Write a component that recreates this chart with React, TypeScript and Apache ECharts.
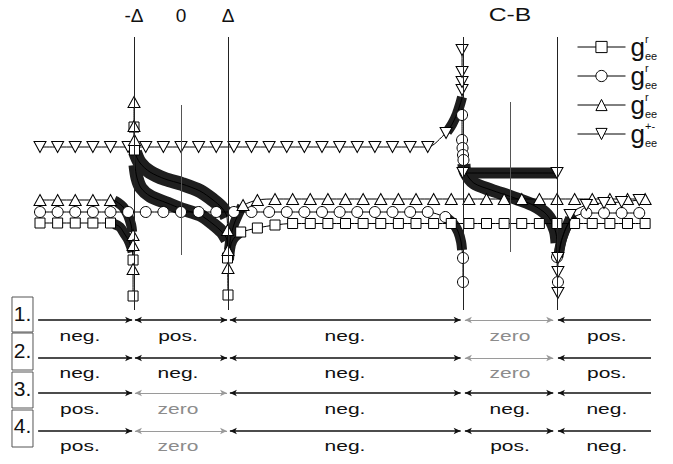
import React, { useEffect, useRef } from 'react';
import * as echarts from 'echarts';

type P = [number, number];

// x: energy in units of Δ (−Δ=−1, 0, Δ=1, C-B region 6..8); y: Green's function (arb. units)
const X_MIN = -3.8511;
const X_MAX = 10.4681;
const Y_MIN = -15.4;
const Y_MAX = 31;

// ---- g^r_ee (squares)
const SQ_L: P[] = [[-3, 8.7], [-2.625, 8.7], [-2.25, 8.7], [-1.875, 8.7], [-1.5, 8.7]];
const SQ_L_BAND: P[] = [[-1.42, 8.6], [-1.3, 8.3], [-1.2, 7.6], [-1.12, 7.0], [-1.06, 6.3], [-1.03, 5.8]];
const SQ_L_DROP: P[] = [[-1.02, 5.0], [-1.02, 1.4]];
const SQ_M_TOP: P[] = [[-1.0, 18.3], [-0.99, 16.0]];
const SQ_M_BAND: P[] = [[-0.979, 14.5], [-0.936, 13.2], [-0.851, 12.2], [-0.66, 11.4], [-0.298, 10.7], [0.021, 10.1], [0.404, 9.5], [0.681, 8.6], [0.872, 7.8], [0.979, 7.0]];
const SQ_M_DROP: P[] = [[0.99, 5.2], [1.0, 1.5]];
const SQ_R_BAND: P[] = [[1.02, 5.0], [1.06, 6.5], [1.13, 7.2], [1.25, 7.7]];
const SQ_R: P[] = [[1.27, 7.8], [1.625, 8.2], [2, 8.5], [2.375, 8.65], [2.75, 8.65], [3.125, 8.65], [3.5, 8.65], [3.875, 8.65], [4.25, 8.65], [4.625, 8.65], [5, 8.65], [5.375, 8.65], [5.75, 8.65], [6.125, 8.65], [6.5, 8.65], [6.875, 8.65], [7.25, 8.65], [7.625, 8.65], [8, 8.65], [8.375, 8.65], [8.75, 8.65], [9.125, 8.65], [9.5, 8.65], [9.875, 8.65]];

// ---- g^r_ee (circles)
const CI_L: P[] = [[-3, 9.8], [-2.625, 9.8], [-2.25, 9.8], [-1.875, 9.8], [-1.5, 9.8], [-1.125, 9.8], [-0.75, 9.8], [-0.375, 9.8], [0, 9.8], [0.375, 9.8], [0.75, 9.8], [1.125, 9.8], [1.5, 9.8], [1.875, 9.8], [2.25, 9.8], [2.625, 9.8], [3, 9.8], [3.375, 9.8], [3.75, 9.8], [4.125, 9.8], [4.5, 9.8], [4.875, 9.8], [5.25, 9.8], [5.625, 9.3]];
const CI_L_BAND: P[] = [[5.66, 9.2], [5.8, 8.6], [5.9, 7.8], [5.96, 6.8], [5.98, 6.0]];
const CI_L_DROP: P[] = [[6.0, 5.2], [6.0, 2.8]];
const CI_M_TOP: P[] = [[5.98, 19.5], [5.98, 17.0], [5.99, 16.2], [6.0, 15.5], [6.01, 15.0]];
const CI_M_BAND: P[] = [[6.02, 14.6], [6.05, 13.8], [6.23, 12.7], [6.6, 12.0], [7.04, 11.3], [7.49, 10.5], [7.79, 9.5], [7.96, 8.0], [8.0, 6.7]];
const CI_M_DROP: P[] = [[8.0, 5.3], [8.02, 2.8]];
const CI_R_BAND: P[] = [[8.03, 5.3], [8.07, 6.5], [8.17, 8.0], [8.3, 9.0], [8.4, 9.4]];
const CI_R: P[] = [[8.625, 9.7], [9.0, 9.7], [9.375, 9.7], [9.75, 9.7]];

// ---- g^r_ee (triangles)
const TR_L: P[] = [[-3, 11.0], [-2.625, 11.0], [-2.25, 11.0], [-1.875, 11.0], [-1.5, 11.0]];
const TR_L_BAND: P[] = [[-1.42, 10.95], [-1.36, 10.8], [-1.23, 10.3], [-1.13, 9.5], [-1.06, 8.5], [-1.04, 7.8]];
const TR_L_DROP: P[] = [[-1.02, 7.5], [-1.02, 6.5], [-1.02, 4.1]];
const TR_M_TOP: P[] = [[-1.0, 20.8], [-1.0, 18.4], [-0.99, 17.0]];
const TR_M_BAND: P[] = [[-0.979, 15.8], [-0.872, 14.7], [-0.66, 13.8], [-0.34, 13.1], [0.021, 12.6], [0.404, 11.9], [0.681, 11.0], [0.872, 10.2], [0.979, 9.3]];
const TR_M_DROP: P[] = [[0.99, 8.0], [1.0, 6.0], [1.0, 4.2]];
const TR_R_BAND: P[] = [[1.02, 6.0], [1.06, 7.3], [1.13, 8.6], [1.25, 9.9], [1.3, 10.4]];
const TR_R: P[] = [[1.32, 10.5], [1.625, 11.0], [2, 11.1], [2.375, 11.1], [2.75, 11.1], [3.125, 11.1], [3.5, 11.1], [3.875, 11.1], [4.25, 11.1], [4.625, 11.1], [5, 11.1], [5.375, 11.1], [5.75, 11.1], [6.125, 11.1], [6.5, 11.1], [6.875, 11.1], [7.25, 11.1], [7.625, 11.1], [8, 11.1], [8.375, 11.1], [8.75, 11.1], [9.125, 11.1], [9.5, 11.1], [9.875, 11.1]];

// ---- g^{+-}_ee (down triangles)
const DN_L: P[] = [[-3, 16.3], [-2.625, 16.3], [-2.25, 16.3], [-1.875, 16.3], [-1.5, 16.3], [-1.125, 16.3], [-0.75, 16.3], [-0.375, 16.3], [0, 16.3], [0.375, 16.3], [0.75, 16.3], [1.125, 16.3], [1.5, 16.3], [1.875, 16.3], [2.25, 16.3], [2.625, 16.3], [3, 16.3], [3.375, 16.3], [3.75, 16.3], [4.125, 16.3], [4.5, 16.3], [4.875, 16.3], [5.25, 16.3], [5.64, 17.7]];
const DN_L_BAND: P[] = [[5.66, 17.8], [5.77, 18.6], [5.87, 19.6], [5.94, 20.6], [5.98, 21.3]];
const DN_L_RISE: P[] = [[5.98, 22.0], [5.98, 22.8], [5.98, 23.8], [5.98, 26.0]];
const DN_M_START: P[] = [[6.0, 13.7]];
const DN_M_BAND: P[] = [[6.0, 13.7], [8.0, 13.7]];
const DN_M_END: P[] = [[8.0, 13.7]];
const DN_R_DROP: P[] = [[8.02, 1.7], [8.02, 3.8], [8.02, 5.2]];
const DN_R_BAND: P[] = [[8.04, 5.6], [8.1, 7.0], [8.2, 8.3], [8.28, 9.2]];
const DN_R: P[] = [[8.28, 9.5], [8.625, 10.5], [9.0, 10.7], [9.375, 10.8], [9.75, 11.0]];

// ---- guides and annotations
const MAIN_LINE_X = [-1, 1, 6, 8];
const MAIN_LINE_Y: P = [0, 27.3];
const CENTER_LINE_X = [0, 7];
const CENTER_LINE_TOP = [20.5, 20.8];
const CENTER_LINE_BOTTOM = [5.5, 5.8];
const TOP_LABELS = ['-Δ', '0', 'Δ', 'C-B'];
const TOP_LABEL_X = [-1, 0, 1, 7];
const TOP_LABEL_Y = 29.5;

const ROW_TEXTS = [
  ['neg.', 'pos.', 'neg.', 'zero', 'pos.'],
  ['neg.', 'neg.', 'neg.', 'zero', 'pos.'],
  ['pos.', 'zero', 'neg.', 'neg.', 'neg.'],
  ['pos.', 'zero', 'neg.', 'pos.', 'neg.'],
];
const SEG_X: P[] = [[-3.04, -1.04], [-0.98, 0.98], [1.04, 5.95], [6.04, 7.92], [8.02, 10.0]];
const TEXT_X = [-2.15, -0.064, 3.49, 7.0, 9.06];
const ARROW_Y = [-1.0, -4.8, -8.3, -12.1];
const TEXT_Y = [-2.6, -6.3, -9.9, -13.6];
const BOX_LABELS = ['1.', '2.', '3.', '4.'];
const BOX_X: P = [-3.596, -3.149];
const BOX_Y: P[] = [[1.3, -2.2], [-2.3, -6.0], [-6.2, -9.8], [-10.0, -13.7]];
const BOX_LABEL_X = -3.372;
const BOX_LABEL_Y = [-0.3, -4.0, -7.8, -11.5];

const NAMES = ['gr_sq', 'gr_ci', 'gr_tr', 'gpm'];
const LEGEND_TEXT: Record<string, string> = {
  gr_sq: '{g|g}{sup|r}{sub|ee}',
  gr_ci: '{g|g}{sup|r}{sub|ee}',
  gr_tr: '{g|g}{sup|r}{sub|ee}',
  gpm: '{g|g}{sup|+-}{sub|ee}',
};

const FONT = '"Liberation Sans", Arial, Helvetica, sans-serif';

interface SymDef { symbol: string; size: number | number[]; rotate: number }
const SYMS: Record<string, SymDef> = {
  gr_sq: { symbol: 'rect', size: 10, rotate: 0 },
  gr_ci: { symbol: 'circle', size: 11, rotate: 0 },
  gr_tr: { symbol: 'triangle', size: [12, 11], rotate: 0 },
  gpm: { symbol: 'triangle', size: [12, 11], rotate: 180 },
};

const markerSeries: any[] = [];
const bandSeries: any[] = [];

function addSegment(name: string, pre: P[], band: P[], post: P[], bandWidth: number) {
  const s = SYMS[name];
  const data: any[] = [
    ...pre.map((p) => p),
    ...band.map((p) => ({ value: p, symbol: 'none' })),
    ...post.map((p) => p),
  ];
  markerSeries.push({
    type: 'line',
    name,
    data,
    symbol: s.symbol,
    symbolSize: s.size,
    symbolRotate: s.rotate,
    showSymbol: true,
    smooth: 0.3,
    lineStyle: { color: '#000', width: 1 },
    itemStyle: { color: '#fff', borderColor: '#000', borderWidth: 1 },
    z: 3,
    silent: true,
    clip: false,
  });
  if (band.length) {
    bandSeries.push({
      type: 'line',
      name,
      data: band,
      symbol: 'none',
      smooth: 0.3,
      lineStyle: { color: '#1e1e1e', width: bandWidth, join: 'round', cap: 'butt' },
      z: 2,
      silent: true,
      clip: false,
    });
  }
}

addSegment('gr_sq', SQ_L, SQ_L_BAND, SQ_L_DROP, 10);
addSegment('gr_ci', CI_L, CI_L_BAND, CI_L_DROP, 10);
addSegment('gr_tr', TR_L, TR_L_BAND, TR_L_DROP, 10);
addSegment('gpm', DN_L, DN_L_BAND, DN_L_RISE, 10);
addSegment('gr_sq', SQ_M_TOP, SQ_M_BAND, SQ_M_DROP, 13);
addSegment('gr_sq', [], SQ_R_BAND, SQ_R, 10);
addSegment('gr_ci', CI_M_TOP, CI_M_BAND, CI_M_DROP, 13);
addSegment('gr_ci', [], CI_R_BAND, CI_R, 10);
addSegment('gr_tr', TR_M_TOP, TR_M_BAND, TR_M_DROP, 14);
addSegment('gr_tr', [], TR_R_BAND, TR_R, 10);
addSegment('gpm', DN_M_START, DN_M_BAND, DN_M_END, 11);
addSegment('gpm', DN_R_DROP, DN_R_BAND, DN_R, 10);

function guideData() {
  const out: any[] = [];
  MAIN_LINE_X.forEach((x) => {
    out.push([
      { coord: [x, MAIN_LINE_Y[0]], symbol: 'none', lineStyle: { color: '#222', width: 1, type: 'solid' } },
      { coord: [x, MAIN_LINE_Y[1]], symbol: 'none' },
    ]);
  });
  CENTER_LINE_X.forEach((x, i) => {
    out.push([
      { coord: [x, CENTER_LINE_BOTTOM[i]], symbol: 'none', lineStyle: { color: '#555', width: 1, type: 'solid' } },
      { coord: [x, CENTER_LINE_TOP[i]], symbol: 'none' },
    ]);
  });
  ROW_TEXTS.forEach((row, r) => {
    SEG_X.forEach(([a, b], c) => {
      const grey = row[c] === 'zero';
      const color = grey ? '#9a9a9a' : '#111';
      const width = grey ? 1 : 1.6;
      out.push([
        {
          coord: [a, ARROW_Y[r]],
          symbol: c === 0 ? 'none' : 'arrow',
          symbolSize: [5, 7],
          lineStyle: { color, width, type: 'solid' },
          itemStyle: { color },
        },
        { coord: [b, ARROW_Y[r]], symbol: c === SEG_X.length - 1 ? 'none' : 'arrow', symbolSize: [5, 7], itemStyle: { color } },
      ]);
    });
  });
  return out;
}

const option: any = {
  animation: false,
  backgroundColor: '#fff',
  grid: { left: 0, right: 0, top: 0, bottom: 0, containLabel: false },
  xAxis: { type: 'value', min: X_MIN, max: X_MAX, show: false, splitLine: { show: false } },
  yAxis: { type: 'value', min: Y_MIN, max: Y_MAX, show: false, splitLine: { show: false } },
  legend: {
    data: NAMES,
    orient: 'vertical',
    left: 577,
    top: 33,
    padding: 0,
    itemWidth: 48,
    itemHeight: 14,
    itemGap: 1,
    selectedMode: false,
    lineStyle: { color: '#000', width: 1 },
    itemStyle: { color: '#fff', borderColor: '#000', borderWidth: 1 },
    formatter: (name: string) => LEGEND_TEXT[name],
    textStyle: {
      fontFamily: FONT,
      color: '#111',
      rich: {
        g: { fontSize: 26, lineHeight: 28, fontFamily: FONT, color: '#111' },
        sup: { fontSize: 11, width: 0, align: 'left', verticalAlign: 'top', fontFamily: FONT, color: '#111' },
        sub: { fontSize: 11, verticalAlign: 'bottom', fontFamily: FONT, color: '#111' },
      },
    },
  },
  series: [
    ...markerSeries,
    ...bandSeries,
    {
      type: 'line',
      name: 'guides',
      data: [],
      silent: true,
      markLine: {
        silent: true,
        animation: false,
        symbol: ['none', 'none'],
        label: { show: false },
        emphasis: { disabled: true },
        lineStyle: { type: 'solid', color: '#222', width: 1 },
        data: guideData(),
      },
    },
  ],
};

function txt(x: number, y: number, text: string, size: number, fill: string, scaleX: number) {
  return {
    type: 'text',
    x,
    y,
    scaleX,
    silent: true,
    style: {
      text,
      font: `${size}px ${FONT}`,
      fill,
      align: 'center',
      verticalAlign: 'middle',
      textAlign: 'center',
      textVerticalAlign: 'middle',
    },
  };
}

export default function App() {
  const ref = useRef<HTMLDivElement>(null);
  useEffect(() => {
    const chart = echarts.init(ref.current!, undefined, { renderer: 'svg' });
    chart.setOption(option);
    const toPx = (p: number[]) => chart.convertToPixel({ gridIndex: 0 } as any, p) as unknown as number[];
    const els: any[] = [];
    TOP_LABELS.forEach((t, i) => {
      const [x, y] = toPx([TOP_LABEL_X[i], TOP_LABEL_Y]);
      els.push(txt(x, y, t, 19, '#111', t === 'C-B' ? 1.3 : 1));
    });
    BOX_Y.forEach(([y1, y2], i) => {
      const [x1, py1] = toPx([BOX_X[0], y1]);
      const [x2, py2] = toPx([BOX_X[1], y2]);
      els.push({
        type: 'rect',
        silent: true,
        shape: { x: x1, y: py1, width: x2 - x1, height: py2 - py1 },
        style: { fill: 'none', stroke: '#555', lineWidth: 1 },
      });
      const [tx, ty] = toPx([BOX_LABEL_X, BOX_LABEL_Y[i]]);
      els.push(txt(tx, ty, BOX_LABELS[i], 21, '#111', 1));
    });
    ROW_TEXTS.forEach((row, r) =>
      row.forEach((t, c) => {
        const [x, y] = toPx([TEXT_X[c], TEXT_Y[r]]);
        els.push(txt(x, y, t, 15, t === 'zero' ? '#8c8c8c' : '#111', 1.4));
      })
    );
    chart.setOption({ graphic: els });
    return () => chart.dispose();
  }, []);
  return (
    <div
      ref={ref}
      style={{ position: 'fixed', left: 0, top: 0, width: 673, height: 464, background: '#fff' }}
    />
  );
}
